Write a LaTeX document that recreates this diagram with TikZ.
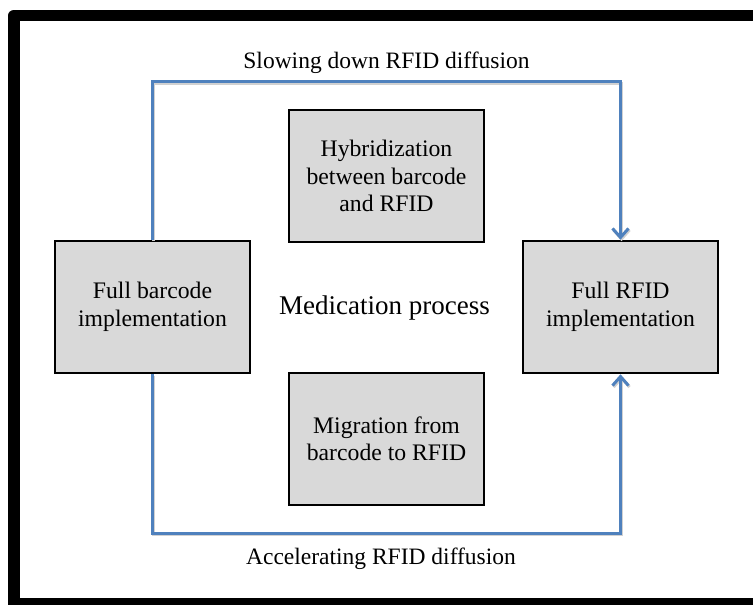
\documentclass[tikz,border=0pt]{standalone}
\usepackage{fontspec}
\setmainfont{Liberation Serif}
\usetikzlibrary{arrows.meta}
\definecolor{boxgray}{HTML}{D9D9D9}
\definecolor{flowblue}{HTML}{4F81BD}
\tikzset{
  stage/.style={draw=black, line width=2.6bp, fill=boxgray,
    minimum width=195bp, minimum height=132bp, inner sep=0pt,
    align=center, font=\fontsize{23.7bp}{27.5bp}\selectfont},
  flow/.style={draw=flowblue, line width=3bp, line join=miter,
    preaction={draw=black!18, line width=3bp, transform canvas={shift={(1bp,-1.5bp)}}}},
  flowtip/.style={-{Straight Barb[length=9bp,width=16bp]}},
  caption/.style={anchor=base, inner sep=0pt, font=\fontsize{23.5bp}{27bp}\selectfont}
}
\begin{document}
\begin{tikzpicture}[x=1bp,y=-1bp]
  \useasboundingbox (0,0) rectangle (753,605);
  \fill[white] (0,0) rectangle (753,605);
  \begin{scope}
    \clip (0,0) rectangle (753,605);
    % heavy outer frame
    \draw[line width=11.5bp, line join=round] (14,15.5) rectangle (775,604);
  \end{scope}

  % stages of the medication process
  \node[stage] (L) at (152.5,307) {Full barcode\\implementation};
  \node[stage] (R) at (620.5,307) {Full RFID\\implementation};
  \node[stage] (H) at (386.5,176) {Hybridization\\between barcode\\and RFID};
  \node[stage] (M) at (386.5,439) {Migration from\\barcode to RFID};

  \node[caption, font=\fontsize{27bp}{30bp}\selectfont] (mp) at (384.5,314) {Medication process};

  % routing levels of the two paths
  \coordinate (top) at (0,82);
  \coordinate (bot) at (0,533);

  \draw[flow, flowtip] (L.north) -- (L.north |- top) -- (R.north |- top) -- (R.north);
  \draw[flow, flowtip] (L.south) -- (L.south |- bot) -- (R.south |- bot) -- (R.south);

  \node[caption] (slow) at (386.5,69) {Slowing down RFID diffusion};
  \node[caption] (acc) at (381,564) {Accelerating RFID diffusion};
\end{tikzpicture}
\end{document}
